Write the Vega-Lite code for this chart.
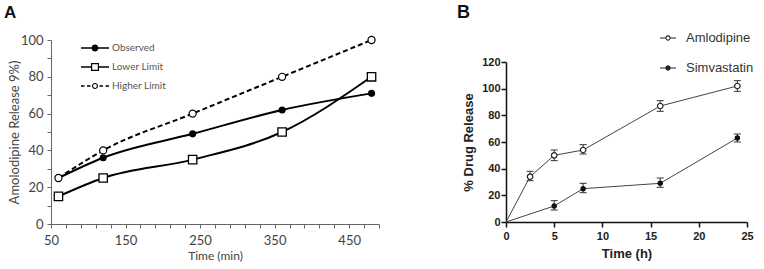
{
  "$schema": "https://vega.github.io/schema/vega-lite/v6.json",
  "padding": {"left": 4, "top": 4, "right": 5, "bottom": 5},
  "background": "white",
  "spacing": 77,
  "resolve": {"scale": {"shape": "independent"}, "legend": {"shape": "independent"}},
  "config": {"view": {"stroke": null}, "axis": {"grid": false, "labelFlush": false}, "legend": {"padding": 0}},
  "datasets": {
    "a": [
      {"series": "Observed", "time": 60, "value": 25},
      {"series": "Observed", "time": 120, "value": 36},
      {"series": "Observed", "time": 240, "value": 49},
      {"series": "Observed", "time": 360, "value": 62},
      {"series": "Observed", "time": 480, "value": 71},
      {"series": "Lower Limit", "time": 60, "value": 15},
      {"series": "Lower Limit", "time": 120, "value": 25},
      {"series": "Lower Limit", "time": 240, "value": 35},
      {"series": "Lower Limit", "time": 360, "value": 50},
      {"series": "Lower Limit", "time": 480, "value": 80},
      {"series": "Higher Limit", "time": 60, "value": 25},
      {"series": "Higher Limit", "time": 120, "value": 40},
      {"series": "Higher Limit", "time": 240, "value": 60},
      {"series": "Higher Limit", "time": 360, "value": 80},
      {"series": "Higher Limit", "time": 480, "value": 100}
    ],
    "b": [
      {"drug": "Amlodipine", "t": 0, "v": 0, "lo": 0, "hi": 0},
      {"drug": "Amlodipine", "t": 2.5, "v": 34, "lo": 31, "hi": 38},
      {"drug": "Amlodipine", "t": 5, "v": 50, "lo": 46, "hi": 54},
      {"drug": "Amlodipine", "t": 8, "v": 54, "lo": 51, "hi": 58},
      {"drug": "Amlodipine", "t": 16, "v": 87, "lo": 83, "hi": 91},
      {"drug": "Amlodipine", "t": 24, "v": 102, "lo": 98, "hi": 106},
      {"drug": "Simvastatin", "t": 0, "v": 0, "lo": 0, "hi": 0},
      {"drug": "Simvastatin", "t": 5, "v": 12, "lo": 9, "hi": 16},
      {"drug": "Simvastatin", "t": 8, "v": 25, "lo": 22, "hi": 29},
      {"drug": "Simvastatin", "t": 16, "v": 29, "lo": 26, "hi": 33},
      {"drug": "Simvastatin", "t": 24, "v": 63, "lo": 60, "hi": 66}
    ]
  },
  "hconcat": [
    {
      "width": 328,
      "height": 184,
      "data": {"name": "a"},
      "title": {"text": "A", "anchor": "start", "frame": "group", "dx": -47, "offset": 12, "fontSize": 17, "fontWeight": "bold", "font": "Liberation Sans", "color": "#111"},
      "encoding": {
        "x": {"field": "time", "type": "quantitative", "scale": {"domain": [50, 490], "nice": false},
          "axis": {"values": [50, 70, 90, 110, 130, 150, 170, 190, 210, 230, 250, 270, 290, 310, 330, 350, 370, 390, 410, 430, 450, 470, 490],
            "labelExpr": "(datum.value - 50) % 100 == 0 ? datum.label : ''", "title": "Time (min)",
            "domainColor": "#666", "tickColor": "#666", "tickSize": 4, "labelFont": "Lato", "labelFontSize": 13, "labelColor": "#444",
            "titleFont": "Lato", "titleFontSize": 12, "titleFontWeight": "normal", "titleColor": "#444", "labelPadding": 6, "titlePadding": 3}},
        "y": {"field": "value", "type": "quantitative", "scale": {"domain": [0, 100]},
          "axis": {"values": [0, 10, 20, 30, 40, 50, 60, 70, 80, 90, 100],
            "labelExpr": "datum.value % 20 == 0 ? datum.label : ''", "title": "Amolodipine Release 9%)",
            "domainColor": "#666", "tickColor": "#666", "tickSize": 4, "labelFont": "Lato", "labelFontSize": 13, "labelColor": "#444",
            "titleFont": "Lato", "titleFontSize": 13, "titleFontWeight": "normal", "titleColor": "#444", "labelPadding": 4, "titlePadding": -1}}
      },
      "layer": [
        {"transform": [{"filter": "datum.series != 'Higher Limit'"}],
          "mark": {"type": "line", "interpolate": "monotone", "color": "black", "strokeWidth": 2},
          "encoding": {"detail": {"field": "series"}}},
        {"transform": [{"filter": "datum.series == 'Higher Limit'"}],
          "mark": {"type": "line", "interpolate": "monotone", "color": "black", "strokeWidth": 2, "strokeDash": [5, 3]}},
        {"transform": [{"filter": "datum.series == 'Observed'"}],
          "mark": {"type": "point", "shape": "circle", "filled": true, "color": "black", "size": 50, "opacity": 1}},
        {"transform": [{"filter": "datum.series == 'Lower Limit'"}],
          "mark": {"type": "point", "shape": "square", "fill": "white", "stroke": "black", "strokeWidth": 1.3, "size": 70, "opacity": 1}},
        {"transform": [{"filter": "datum.series == 'Higher Limit'"}],
          "mark": {"type": "point", "shape": "circle", "fill": "white", "stroke": "black", "strokeWidth": 1.2, "size": 50, "opacity": 1}},
        {"transform": [{"filter": "false"}],
          "mark": {"type": "point", "filled": true, "color": "black", "opacity": 1},
          "encoding": {
            "shape": {"field": "series", "type": "nominal",
              "scale": {"domain": ["Observed", "Lower Limit", "Higher Limit"],
                "range": ["M-1.4,-0.08H-0.35V0.08H-1.4Z M0.35,-0.08H1.4V0.08H0.35Z M-0.35,0A0.35,0.35,0,1,1,0.35,0A0.35,0.35,0,1,1,-0.35,0Z",
                  "M-1.4,-0.08H-0.4V0.08H-1.4Z M0.4,-0.08H1.4V0.08H0.4Z M-0.4,-0.4H0.4V0.4H-0.4Z M-0.28,-0.28V0.28H0.28V-0.28Z",
                  "M-1.4,-0.07H-1.05V0.07H-1.4Z M-0.8,-0.07H-0.45V0.07H-0.8Z M0.45,-0.07H0.8V0.07H0.45Z M1.05,-0.07H1.4V0.07H1.05Z M-0.3,0A0.3,0.3,0,1,1,0.3,0A0.3,0.3,0,1,1,-0.3,0Z M-0.19,0A0.19,0.19,0,1,0,0.19,0A0.19,0.19,0,1,0,-0.19,0Z"]},
              "legend": {"title": null, "orient": "none", "legendX": 34, "legendY": -2, "symbolSize": 400, "symbolFillColor": "black", "symbolStrokeColor": "transparent", "symbolStrokeWidth": 0, "symbolOpacity": 1, "labelFont": "Lato", "labelFontSize": 10, "labelColor": "#555", "labelOffset": 7, "rowPadding": 4}}
          }}
      ]
    },
    {
      "width": 241,
      "height": 182,
      "data": {"name": "b"},
      "title": {"text": "B", "anchor": "start", "frame": "group", "dx": -49, "offset": 8, "fontSize": 18, "fontWeight": "bold", "font": "Liberation Sans", "color": "#111"},
      "encoding": {
        "x": {"field": "t", "type": "quantitative", "scale": {"domain": [0, 25], "nice": false},
          "axis": {"values": [0, 5, 10, 15, 20, 25], "title": "Time (h)",
            "domainColor": "#111", "domainWidth": 1.5, "tickColor": "#111", "tickWidth": 1.5, "tickSize": 5,
            "labelFont": "Liberation Sans", "labelFontSize": 11, "labelFontWeight": "bold", "labelColor": "#222",
            "titleFont": "Liberation Sans", "titleFontSize": 13, "titleFontWeight": "bold", "titleColor": "#222", "labelPadding": 3, "titlePadding": 6}},
        "y": {"field": "v", "type": "quantitative", "title": "% Drug Release", "scale": {"domain": [0, 120], "range": [182, 22]},
          "axis": {"values": [0, 20, 40, 60, 80, 100, 120],
            "domainColor": "#111", "domainWidth": 1.5, "tickColor": "#111", "tickWidth": 1.5, "tickSize": 5,
            "labelFont": "Liberation Sans", "labelFontSize": 11, "labelFontWeight": "bold", "labelColor": "#222",
            "titleFont": "Liberation Sans", "titleFontSize": 13, "titleFontWeight": "bold", "titleColor": "#222", "labelPadding": 1, "titlePadding": 6}}
      },
      "layer": [
        {"mark": {"type": "line", "color": "#444", "strokeWidth": 1},
          "encoding": {"detail": {"field": "drug"}}},
        {"transform": [{"filter": "datum.t > 0"}],
          "mark": {"type": "rule", "color": "#333", "strokeWidth": 1},
          "encoding": {"y": {"field": "lo", "type": "quantitative", "title": "% Drug Release", "axis": {"values": [0, 20, 40, 60, 80, 100, 120]}}, "y2": {"field": "hi"}}},
        {"transform": [{"filter": "datum.t > 0"}],
          "mark": {"type": "tick", "orient": "horizontal", "size": 7, "thickness": 1, "color": "#333", "opacity": 1},
          "encoding": {"y": {"field": "lo", "type": "quantitative", "title": "% Drug Release", "axis": {"values": [0, 20, 40, 60, 80, 100, 120]}}}},
        {"transform": [{"filter": "datum.t > 0"}],
          "mark": {"type": "tick", "orient": "horizontal", "size": 7, "thickness": 1, "color": "#333", "opacity": 1},
          "encoding": {"y": {"field": "hi", "type": "quantitative", "title": "% Drug Release", "axis": {"values": [0, 20, 40, 60, 80, 100, 120]}}}},
        {"transform": [{"filter": "datum.drug == 'Amlodipine' && datum.t > 0"}],
          "mark": {"type": "point", "shape": "circle", "fill": "white", "stroke": "#222", "strokeWidth": 1.2, "size": 30, "opacity": 1}},
        {"transform": [{"filter": "datum.drug == 'Simvastatin' && datum.t > 0"}],
          "mark": {"type": "point", "shape": "circle", "filled": true, "color": "#111", "size": 30, "opacity": 1}},
        {"transform": [{"filter": "false"}],
          "mark": {"type": "point", "filled": true, "color": "#222", "opacity": 1},
          "encoding": {
            "shape": {"field": "drug", "type": "nominal",
              "scale": {"domain": ["Amlodipine", "Simvastatin"],
                "range": ["M-1,-0.06H-0.33V0.06H-1Z M0.33,-0.06H1V0.06H0.33Z M-0.33,0A0.33,0.33,0,1,1,0.33,0A0.33,0.33,0,1,1,-0.33,0Z M-0.2,0A0.2,0.2,0,1,0,0.2,0A0.2,0.2,0,1,0,-0.2,0Z",
                  "M-1,-0.06H-0.33V0.06H-1Z M0.33,-0.06H1V0.06H0.33Z M-0.33,0A0.33,0.33,0,1,1,0.33,0A0.33,0.33,0,1,1,-0.33,0Z"]},
              "legend": {"title": null, "orient": "none", "legendX": 154, "legendY": -10, "symbolSize": 256, "symbolFillColor": "#222", "symbolStrokeColor": "transparent", "symbolStrokeWidth": 0, "symbolOpacity": 1, "labelFont": "Liberation Sans", "labelFontSize": 13, "labelColor": "#333", "labelOffset": 10, "rowPadding": 15}}
          }}
      ]
    }
  ]
}
